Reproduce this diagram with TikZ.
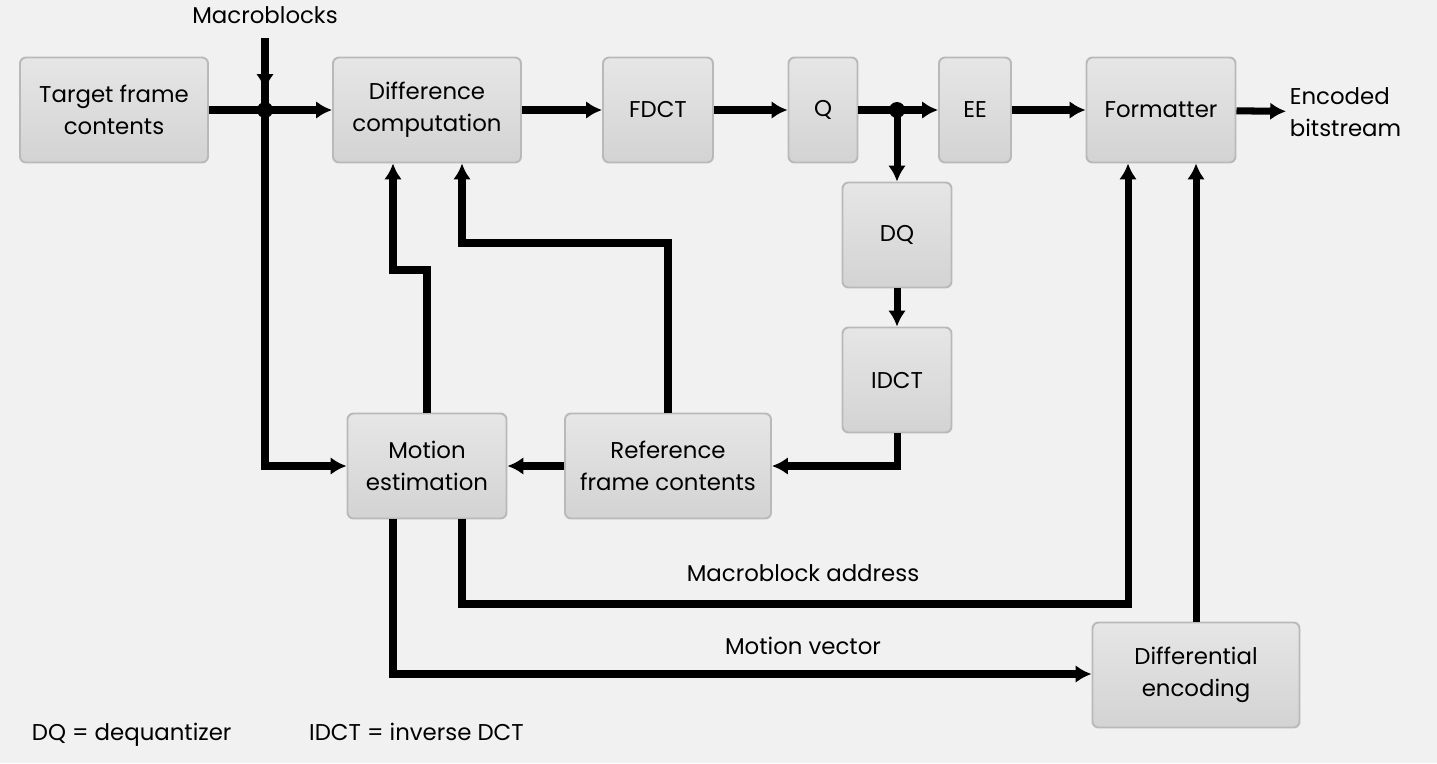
\documentclass[tikz,border=0pt]{standalone}
\usepackage{fontspec}
\setmainfont{Poppins}
\usetikzlibrary{positioning}
\usetikzlibrary{arrows.meta}
\definecolor{bgcol}{HTML}{F1F1F1}
\definecolor{boxtop}{HTML}{E6E6E6}
\definecolor{boxbot}{HTML}{D3D3D3}
\definecolor{boxedge}{HTML}{B9B9B9}
\tikzset{
  blk/.style={draw=boxedge, line width=1.1pt, rounded corners=1.2mm,
    top color=boxtop, bottom color=boxbot, align=center, inner sep=0pt,
    font=\fontsize{13}{18}\selectfont},
  wire/.style={line width=4pt},
  arr/.style={wire, arrows={-Latex[length=9pt,width=10pt]}},
  lbl/.style={font=\fontsize{13}{18}\selectfont, inner sep=2pt},
}

\begin{document}
\begin{tikzpicture}[x=0.2mm,y=-0.2mm]
        % Background and page size
        \fill[bgcol] (0,0) rectangle (1437,763);
        \useasboundingbox (0,0) rectangle (1437,763);
        % Top row of blocks
        \node[blk, minimum width=37.6mm, minimum height=21mm] (tfc) at (114,110) {Target frame\\contents};
        \node[blk, minimum width=37.6mm, minimum height=21mm] (dc) at (427,110) {Difference\\computation};
        \node[blk, minimum width=22mm, minimum height=21mm] (fdct) at (658,110) {FDCT};
        \node[blk, minimum width=13.8mm, minimum height=21mm] (q) at (823,110) {Q};
        \node[blk, minimum width=14.4mm, minimum height=21mm] (ee) at (975,110) {EE};
        \node[blk, minimum width=29.8mm, minimum height=21mm] (fmt) at (1161,110) {Formatter};
        \node[lbl, anchor=west, align=left] (enc) at (1286,112) {Encoded\\bitstream};
        % Feedback column
        \node[blk, minimum width=21.8mm, minimum height=21mm] (dq) at (897,235) {DQ};
        \node[blk, minimum width=21.8mm, minimum height=21mm] (idct) at (897,380) {IDCT};
        % Bottom row of blocks
        \node[blk, minimum width=31.8mm, minimum height=21mm] (me) at (427,466) {Motion\\estimation};
        \node[blk, minimum width=41.2mm, minimum height=21mm] (ref) at (668,466) {Reference\\frame contents};
        \node[blk, minimum width=41.4mm, minimum height=21mm] (de) at (1196,675) {Differential\\encoding};
        % Texts
        \node[lbl] (mb) at (265,15) {Macroblocks};
        \node[lbl] (mba) at (803,573) {Macroblock address};
        \node[lbl] (mv) at (803,646) {Motion vector};
        \node[lbl, anchor=west] (key) at (28,735) {DQ = dequantizer\hspace{3.4em}IDCT = inverse DCT};
        % Junctions and corners
        \coordinate (mbtop) at (265,38);
        \coordinate (j1) at (265,110);
        \coordinate (j2) at (897,110);
        \coordinate (c1) at (393,270);
        \coordinate (c2) at (462,243);
        \coordinate (c3) at (462,604);
        \coordinate (c4) at (1128,604);
        \coordinate (c5) at (393,674);
        % Forward path
        \draw[wire] (mbtop) -- (j1);
        \draw[arr] (mbtop) -- ++(0,52);
        \draw[arr] (tfc) -- (dc);
        \draw[arr] (dc) -- (fdct);
        \draw[arr] (fdct) -- (q);
        \draw[arr] (q) -- (ee);
        \draw[arr] (ee) -- (fmt);
        \draw[arr] (fmt) -- (enc);
        % Reconstruction loop
        \draw[arr] (j2) -- (dq);
        \draw[arr] (dq) -- (idct);
        \draw[arr] (idct.south) |- (ref.east);
        \draw[arr] (ref) -- (me);
        \draw[arr] (j1) |- (me.west);
        \draw[arr] (me.north) |- (c1) -- (c1 |- dc.south);
        \draw[arr] (ref.north) |- (c2) -- (c2 |- dc.south);
        % Motion outputs
        \draw[arr] (c3 |- me.south) -- (c3) -- (c4) -- (c4 |- fmt.south);
        \draw[arr] (c5 |- me.south) -- (c5) -- (de.west |- c5);
        \draw[arr] (de.north) -- (de.north |- fmt.south);
        % Junction dots
        \fill (j1) circle (8);
        \fill (j2) circle (8);
      \end{tikzpicture}
\end{document}
